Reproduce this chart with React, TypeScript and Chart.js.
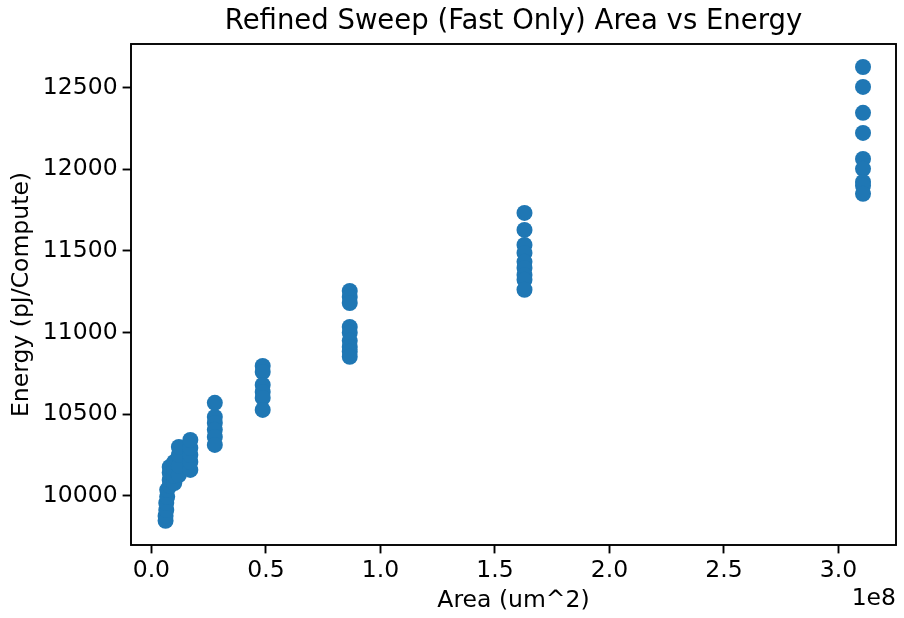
import React, { useEffect, useRef } from "react";
import { Chart, registerables } from "chart.js";

Chart.register(...registerables);

// Area (um^2) of each design point
const areaValues: number[] = [
  0.062e8, 0.062e8, 0.065e8, 0.065e8, 0.069e8, 0.069e8,
  0.08e8, 0.08e8, 0.08e8, 0.08e8,
  0.10e8, 0.10e8, 0.10e8, 0.10e8,
  0.12e8, 0.12e8, 0.12e8, 0.12e8,
  0.17e8, 0.17e8, 0.17e8, 0.17e8, 0.17e8,
  0.277e8, 0.277e8, 0.277e8, 0.277e8, 0.277e8, 0.277e8,
  0.486e8, 0.486e8, 0.486e8, 0.486e8, 0.486e8, 0.486e8,
  0.866e8, 0.866e8, 0.866e8, 0.866e8, 0.866e8, 0.866e8, 0.866e8, 0.866e8, 0.866e8,
  1.629e8, 1.629e8, 1.629e8, 1.629e8, 1.629e8, 1.629e8, 1.629e8, 1.629e8, 1.629e8,
  3.107e8, 3.107e8, 3.107e8, 3.107e8, 3.107e8, 3.107e8, 3.107e8, 3.107e8, 3.107e8,
];

// Energy (pJ/Compute) of each design point
const energyValues: number[] = [
  9846, 9876, 9913, 9956, 9993, 10036,
  10060, 10097, 10140, 10176,
  10078, 10121, 10158, 10207,
  10127, 10183, 10250, 10299,
  10158, 10207, 10250, 10293, 10342,
  10569, 10483, 10446, 10404, 10360, 10311,
  10795, 10758, 10679, 10636, 10599, 10526,
  11255, 11218, 11181, 11034, 10998, 10949, 10912, 10882, 10851,
  11733, 11629, 11537, 11488, 11433, 11396, 11353, 11323, 11262,
  12627, 12505, 12346, 12223, 12064, 12003, 11923, 11899, 11850,
];

const xTickValues: number[] = [0, 0.5e8, 1.0e8, 1.5e8, 2.0e8, 2.5e8, 3.0e8];
const yTickValues: number[] = [10000, 10500, 11000, 11500, 12000, 12500];

const titleText = "Refined Sweep (Fast Only) Area vs Energy";
const xLabel = "Area (um^2)";
const yLabel = "Energy (pJ/Compute)";
const offsetText = "1e8";

const FONT = "'DejaVu Sans', 'Liberation Sans', sans-serif";

export default function App() {
  const canvasRef = useRef<HTMLCanvasElement | null>(null);

  useEffect(() => {
    document.body.style.margin = "0";
    const canvas = canvasRef.current;
    if (!canvas) return;

    const framePlugin = {
      id: "frame",
      afterDraw(chart: any) {
        const { ctx, chartArea } = chart;
        ctx.save();
        ctx.strokeStyle = "#000";
        ctx.lineWidth = 1.9;
        ctx.strokeRect(
          chartArea.left,
          chartArea.top,
          chartArea.right - chartArea.left,
          chartArea.bottom - chartArea.top
        );
        ctx.fillStyle = "#000";
        ctx.font = `23.5px ${FONT}`;
        ctx.textAlign = "right";
        ctx.textBaseline = "middle";
        ctx.fillText(offsetText, chartArea.right, 599);
        ctx.font = `27.5px ${FONT}`;
        ctx.textAlign = "center";
        ctx.fillText(titleText, (chartArea.left + chartArea.right) / 2, 22);
        ctx.restore();
      },
    };

    const chart = new Chart(canvas, {
      type: "scatter",
      data: {
        datasets: [
          {
            data: areaValues.map((a, i) => ({ x: a, y: energyValues[i] })),
            backgroundColor: "#1f77b4",
            borderColor: "#1f77b4",
            borderWidth: 0,
            pointRadius: 8,
            pointHoverRadius: 8,
          },
        ],
      },
      options: {
        animation: false,
        responsive: false,
        events: [],
        layout: { padding: { left: 0, right: 7, top: 44, bottom: 0 } },
        plugins: {
          legend: { display: false },
          tooltip: { enabled: false },
          title: { display: false },
        },
        scales: {
          x: {
            type: "linear",
            min: -0.089e8,
            max: 3.251e8,
            afterBuildTicks(scale: any) {
              scale.ticks = xTickValues.map((v) => ({ value: v }));
            },
            afterFit(scale: any) {
              scale.height = 73;
            },
            ticks: {
              color: "#000",
              font: { family: FONT, size: 23.5 },
              padding: 3,
              maxRotation: 0,
              autoSkip: false,
              callback: (v: any) => (Number(v) / 1e8).toFixed(1),
            },
            grid: {
              display: true,
              drawOnChartArea: false,
              drawTicks: true,
              tickLength: 8.4,
              tickWidth: 1.9,
              tickColor: "#000",
            },
            border: { display: false },
            title: {
              display: true,
              text: xLabel,
              color: "#000",
              font: { family: FONT, size: 23.5 },
              padding: { top: 0, bottom: 3 },
            },
          },
          y: {
            type: "linear",
            min: 9698,
            max: 12768,
            afterBuildTicks(scale: any) {
              scale.ticks = yTickValues.map((v) => ({ value: v }));
            },
            afterFit(scale: any) {
              scale.width = 131;
            },
            ticks: {
              color: "#000",
              font: { family: FONT, size: 23.5 },
              padding: 5,
              autoSkip: false,
              callback: (v: any) => String(v),
            },
            grid: {
              display: true,
              drawOnChartArea: false,
              drawTicks: true,
              tickLength: 8.4,
              tickWidth: 1.9,
              tickColor: "#000",
            },
            border: { display: false },
            title: {
              display: true,
              text: yLabel,
              color: "#000",
              font: { family: FONT, size: 23.5 },
              padding: { top: 8, bottom: 0 },
            },
          },
        },
      },
      plugins: [framePlugin],
    });

    return () => {
      chart.destroy();
    };
  }, []);

  return (
    <div style={{ width: 904, height: 618, background: "#fff" }}>
      <canvas ref={canvasRef} width={904} height={618} />
    </div>
  );
}
